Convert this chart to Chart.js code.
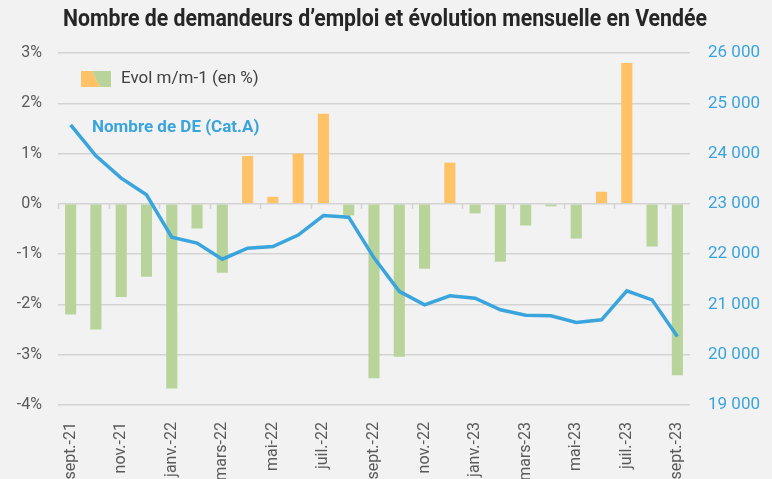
<!DOCTYPE html>
<html lang="fr">
<head>
<meta charset="utf-8">
<title>Demandeurs d'emploi - Vendée</title>
<script src="https://cdn.jsdelivr.net/npm/chart.js@4.4.1/dist/chart.umd.min.js"></script>
<style>
  html, body { margin: 0; padding: 0; background: #f2f2f2; overflow: hidden; }
  #wrap { width: 772px; height: 479px; }
</style>
</head>
<body>
<div id="wrap"><canvas id="chart" width="772" height="479"></canvas></div>
<script>
// Months (sept. 2021 -> sept. 2023)
const categories = ['sept.-21', 'oct.-21', 'nov.-21', 'déc.-21', 'janv.-22', 'févr.-22', 'mars-22',
    'avr.-22', 'mai-22', 'juin-22', 'juil.-22', 'août-22', 'sept.-22', 'oct.-22', 'nov.-22',
    'déc.-22', 'janv.-23', 'févr.-23', 'mars-23', 'avr.-23', 'mai-23', 'juin-23', 'juil.-23',
    'août-23', 'sept.-23'];

// Monthly change, in %
const evolValues = [-2.2, -2.5, -1.85, -1.45, -3.67, -0.49, -1.37, 0.95, 0.14, 1.0, 1.79, -0.23,
    -3.47, -3.04, -1.29, 0.82, -0.19, -1.15, -0.43, -0.05, -0.69, 0.24, 2.8, -0.85, -3.41];

// Job seekers, cat. A
const deValues = [24570, 23954, 23511, 23179, 22338, 22219, 21900, 22119, 22151, 22380, 22767, 22735,
    21926, 21260, 20992, 21171, 21125, 20893, 20787, 20773, 20640, 20694, 21270, 21091, 20360];

const pctTicks = [-4, 1, 3];           // min, step, max of left axis
const deTicks = [19000, 1000, 26000];  // min, step, max of right axis

const TITLE = 'Nombre de demandeurs d\u2019emploi et évolution mensuelle en Vendée';

const ORANGE = '#ffc266';
const GREEN = '#b8d49b';
const BLUE = '#3aa4dc';
const GRID = '#d3d3d3';
const TEXT = '#595959';

function formatThousands(v) {
    return String(v).replace(/\B(?=(\d{3})+(?!\d))/g, ' ');
}

// Extra drawings: title, ticks on the zero line, legend patch, series label
const decorations = {
    id: 'decorations',
    beforeDatasetsDraw(chart) {
        const ctx = chart.ctx;
        const x = chart.scales.x;
        const y0 = chart.scales.y.getPixelForValue(0);
        const half = (x.getPixelForValue(1) - x.getPixelForValue(0)) / 2;
        ctx.save();
        ctx.strokeStyle = GRID;
        ctx.lineWidth = 1.5;
        for (let i = 0; i < categories.length; i += 2) {
            const px = Math.round(x.getPixelForValue(i) - half) + 0.5;
            ctx.beginPath();
            ctx.moveTo(px, y0);
            ctx.lineTo(px, y0 + 5);
            ctx.stroke();
        }
        ctx.restore();
    },
    afterDraw(chart) {
        const ctx = chart.ctx;
        ctx.save();

        // title, condensed horizontally like the original font
        ctx.font = 'bold 24px Roboto';
        ctx.fillStyle = '#262626';
        ctx.textAlign = 'center';
        ctx.textBaseline = 'middle';
        const sx = 644 / ctx.measureText(TITLE).width;
        ctx.translate(385, 20);
        ctx.scale(sx, 1);
        ctx.fillText(TITLE, 0, 0);
        ctx.setTransform(1, 0, 0, 1, 0, 0);

        // legend patch, half orange / half green
        ctx.fillStyle = ORANGE;
        ctx.beginPath();
        ctx.moveTo(81, 71); ctx.lineTo(92, 71); ctx.lineTo(100, 87); ctx.lineTo(81, 87);
        ctx.closePath(); ctx.fill();
        ctx.fillStyle = GREEN;
        ctx.beginPath();
        ctx.moveTo(92, 71); ctx.lineTo(111, 71); ctx.lineTo(111, 87); ctx.lineTo(100, 87);
        ctx.closePath(); ctx.fill();

        ctx.textBaseline = 'middle';
        ctx.textAlign = 'left';
        ctx.fillStyle = '#404040';
        ctx.font = '17px Roboto';
        ctx.fillText('Evol m/m-1 (en %)', 121, 79);

        ctx.fillStyle = BLUE;
        ctx.font = 'bold 17px Roboto';
        ctx.fillText('Nombre de DE (Cat.A)', 92, 128);
        ctx.restore();
    }
};

new Chart(document.getElementById('chart'), {
    data: {
        labels: categories,
        datasets: [
            {
                type: 'line',
                label: 'Nombre de DE (Cat.A)',
                data: deValues,
                yAxisID: 'y1',
                borderColor: BLUE,
                borderWidth: 3.5,
                pointRadius: 0,
                tension: 0,
                order: 1
            },
            {
                type: 'bar',
                label: 'Evol m/m-1 (en %)',
                data: evolValues,
                yAxisID: 'y',
                backgroundColor: c => (c.raw >= 0 ? ORANGE : GREEN),
                barPercentage: 0.44,
                categoryPercentage: 1,
                order: 2
            }
        ]
    },
    options: {
        responsive: false,
        animation: false,
        devicePixelRatio: 1,
        layout: { padding: { top: 53, left: 0, right: 0, bottom: 0 } },
        plugins: {
            legend: { display: false },
            tooltip: { enabled: false },
            title: { display: false }
        },
        scales: {
            x: {
                grid: { display: false },
                border: { display: false },
                ticks: {
                    autoSkip: false,
                    minRotation: 90,
                    maxRotation: 90,
                    padding: 9,
                    color: TEXT,
                    font: { family: 'Roboto', size: 16 },
                    callback: (v, i) => (i % 2 === 0 ? categories[i] : '')
                },
                afterFit: s => { s.height = 74; }
            },
            y: {
                position: 'left',
                min: pctTicks[0],
                max: pctTicks[2],
                ticks: {
                    stepSize: pctTicks[1],
                    color: TEXT,
                    padding: 16,
                    font: { family: 'Roboto', size: 16 },
                    callback: v => v + '%'
                },
                grid: { color: GRID, lineWidth: 1.5, drawTicks: false },
                border: { display: false },
                afterFit: s => { s.width = 58; }
            },
            y1: {
                position: 'right',
                min: deTicks[0],
                max: deTicks[2],
                ticks: {
                    stepSize: deTicks[1],
                    color: BLUE,
                    padding: 18,
                    font: { family: 'Roboto', size: 17 },
                    callback: v => formatThousands(v)
                },
                grid: { display: false, drawTicks: false },
                border: { display: false },
                afterFit: s => { s.width = 82; }
            }
        }
    },
    plugins: [decorations]
});
</script>
</body>
</html>
